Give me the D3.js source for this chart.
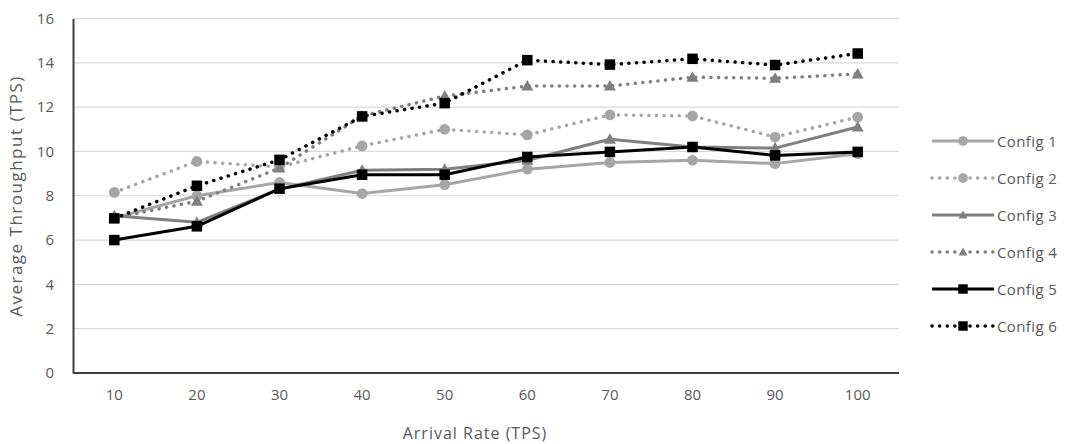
<!DOCTYPE html>
<html><head><meta charset="utf-8">
<script src="https://cdn.jsdelivr.net/npm/d3@7"></script>
<style>body{margin:0;background:#fff;} text{font-family:"Open Sans","Liberation Sans",sans-serif;}</style>
</head><body>
<svg id="c" width="1068" height="444"></svg>
<script>
const categories = [10,20,30,40,50,60,70,80,90,100];
const config1 = [7.0,8.0,8.6,8.1,8.5,9.2,9.5,9.6,9.45,9.9];
const config2 = [8.15,9.55,9.3,10.25,11.0,10.75,11.65,11.6,10.65,11.55];
const config3 = [7.1,6.8,8.3,9.15,9.2,9.6,10.55,10.2,10.15,11.1];
const config4 = [7.0,7.75,9.25,11.6,12.5,12.95,12.95,13.35,13.3,13.5];
const config5 = [6.0,6.62,8.32,8.95,8.95,9.75,9.98,10.2,9.82,9.98];
const config6 = [6.98,8.45,9.62,11.58,12.18,14.12,13.92,14.18,13.9,14.42];
const seriesNames = ["Config 1","Config 2","Config 3","Config 4","Config 5","Config 6"];
const yTicks = [0,2,4,6,8,10,12,14,16];

const series = [
  {name:seriesNames[0], values:config1, color:"#a6a6a6", dotted:false, marker:"circle"},
  {name:seriesNames[1], values:config2, color:"#a6a6a6", dotted:true, marker:"circle"},
  {name:seriesNames[2], values:config3, color:"#7f7f7f", dotted:false, marker:"triangle"},
  {name:seriesNames[3], values:config4, color:"#7f7f7f", dotted:true, marker:"triangle"},
  {name:seriesNames[4], values:config5, color:"#000000", dotted:false, marker:"square"},
  {name:seriesNames[5], values:config6, color:"#000000", dotted:true, marker:"square"}
];

const svg = d3.select("#c");
const L = 73, R = 899, T = 18.5, B = 373;
const x = d3.scaleBand().domain(categories).range([L, R]);
const y = d3.scaleLinear().domain([0,16]).range([B, T]);
const cx = d => x(d) + x.bandwidth()/2;

// gridlines
svg.append("g").selectAll("line").data(yTicks.filter(t=>t>0)).join("line")
  .attr("x1", L).attr("x2", R).attr("y1", d=>y(d)).attr("y2", d=>y(d))
  .attr("stroke", "#d9d9d9").attr("stroke-width", 1.2);

// axes
const yAxis = svg.append("g").attr("transform", `translate(${L},0)`)
  .call(d3.axisLeft(y).tickValues(yTicks).tickSize(0).tickPadding(19));
yAxis.select(".domain").attr("stroke", "#404040").attr("stroke-width", 2);
yAxis.selectAll("text").attr("fill", "#595959").style("font-size", "15px");

const xAxis = svg.append("g").attr("transform", `translate(0,${B})`)
  .call(d3.axisBottom(x).tickSize(0).tickPadding(16));
xAxis.select(".domain").attr("stroke", "#404040").attr("stroke-width", 2).attr("d", `M${L},0H${R}`);
xAxis.selectAll("text").attr("fill", "#595959").style("font-size", "15px");

svg.append("text").attr("x", 475).attr("y", 439).attr("text-anchor", "middle")
  .attr("fill", "#595959").style("font-size", "16px").style("letter-spacing", "1px").text("Arrival Rate (TPS)");
svg.append("text").attr("transform", "translate(22,196) rotate(-90)").attr("text-anchor", "middle")
  .attr("fill", "#595959").style("font-size", "17px").style("letter-spacing", "1.5px").text("Average Throughput (TPS)");

function drawMarker(g, type, px, py, color, scale) {
  scale = scale || 1;
  if (type === "circle") {
    g.append("circle").attr("cx", px).attr("cy", py).attr("r", 5.4*scale).attr("fill", color);
  } else if (type === "square") {
    const s = 10.5*scale;
    g.append("rect").attr("x", px - s/2).attr("y", py - s/2).attr("width", s).attr("height", s).attr("fill", color);
  } else {
    const s = 6*scale;
    g.append("path").attr("d", `M${px},${py - s}L${px + s},${py + s*0.75}L${px - s},${py + s*0.75}Z`).attr("fill", color);
  }
}

const line = d3.line().x((d,i)=>cx(categories[i])).y(d=>y(d));
series.forEach(s => {
  const g = svg.append("g");
  g.append("path").datum(s.values).attr("d", line).attr("fill", "none")
    .attr("stroke", s.color).attr("stroke-width", s.dotted ? 3.5 : 3)
    .attr("stroke-linecap", s.dotted ? "round" : "butt")
    .attr("stroke-linejoin", "round")
    .attr("stroke-dasharray", s.dotted ? "0.1 7.5" : null);
  s.values.forEach((v,i) => drawMarker(g, s.marker, cx(categories[i]), y(v), s.color));
});

// legend
const leg = svg.append("g");
series.forEach((s, i) => {
  const ly = 141 + i*37;
  leg.append("line").attr("x1", 932).attr("x2", 994).attr("y1", ly).attr("y2", ly)
    .attr("stroke", s.color).attr("stroke-width", s.dotted ? 3.5 : 3)
    .attr("stroke-linecap", s.dotted ? "round" : "butt")
    .attr("stroke-dasharray", s.dotted ? "0.1 7.5" : null);
  drawMarker(leg, s.marker, 963, ly, s.color, s.marker === "triangle" ? 0.75 : 0.9);
  leg.append("text").attr("x", 997).attr("y", ly + 5.5).attr("fill", "#595959")
    .style("font-size", "15px").style("letter-spacing", "0.4px").text(s.name);
});
</script>
</body></html>
